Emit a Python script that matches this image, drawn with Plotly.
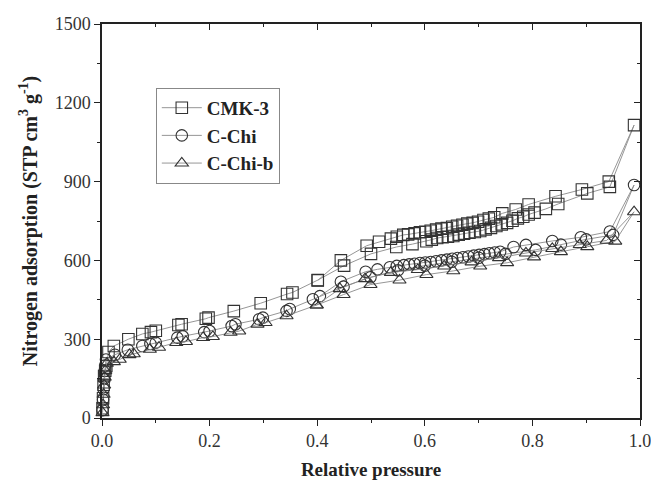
import plotly.graph_objects as go

# ---- data ----
cmk_ads_x = [0.001, 0.002, 0.003, 0.004, 0.006, 0.008, 0.012, 0.022, 0.049, 0.075, 0.091, 0.100,
             0.142, 0.148, 0.193, 0.198, 0.245, 0.295, 0.344, 0.354, 0.401, 0.450, 0.500, 0.547,
             0.577, 0.603, 0.613, 0.623, 0.633, 0.643, 0.653, 0.663, 0.673, 0.683, 0.693, 0.703,
             0.713, 0.723, 0.733, 0.743, 0.753, 0.763, 0.773, 0.783, 0.793, 0.804, 0.825, 0.848,
             0.902, 0.944, 0.989]
cmk_ads_y = [37, 75, 126, 160, 180, 198, 251, 274, 300, 320, 327, 332,
             354, 357, 378, 382, 407, 437, 472, 478, 525, 580, 625, 651,
             662, 673, 679, 685, 688, 690, 693, 698, 702, 705, 708, 712,
             718, 724, 731, 737, 743, 751, 760, 766, 775, 782, 796, 815,
             855, 880, 1115]
cmk_des_x = [0.942, 0.892, 0.843, 0.793, 0.769, 0.744, 0.729, 0.719, 0.709, 0.699, 0.689, 0.679,
             0.670, 0.660, 0.651, 0.641, 0.631, 0.621, 0.611, 0.601, 0.591, 0.581, 0.569, 0.560,
             0.548, 0.537, 0.515, 0.492, 0.444, 0.401]
cmk_des_y = [900, 870, 844, 813, 794, 779, 764, 759, 754, 747, 743, 740,
             736, 732, 728, 723, 721, 717, 713, 709, 707, 703, 699, 697,
             690, 683, 671, 656, 600, 524]

chi_ads_x = [0.001, 0.002, 0.003, 0.004, 0.005, 0.006, 0.0074, 0.024, 0.048, 0.075, 0.090, 0.100,
             0.140, 0.150, 0.190, 0.200, 0.241, 0.248, 0.292, 0.299, 0.343, 0.349, 0.392, 0.449,
             0.499, 0.550, 0.600, 0.650, 0.700, 0.750, 0.806, 0.853, 0.900, 0.950, 0.989]
chi_ads_y = [30, 70, 110, 150, 180, 200, 223, 241, 260, 274, 282, 287,
             306, 311, 327, 331, 350, 357, 376, 382, 408, 415, 452, 500,
             536, 562, 580, 595, 610, 625, 640, 660, 680, 697, 887]
chi_des_x = [0.944, 0.890, 0.837, 0.788, 0.765, 0.740, 0.730, 0.720, 0.711, 0.701, 0.691, 0.681,
             0.671, 0.661, 0.651, 0.641, 0.631, 0.621, 0.611, 0.601, 0.591, 0.581, 0.571, 0.561,
             0.548, 0.535, 0.512, 0.490, 0.444, 0.405]
chi_des_y = [710, 688, 674, 659, 651, 633, 630, 627, 624, 621, 618, 615,
             612, 609, 606, 603, 600, 597, 594, 592, 590, 587, 585, 582,
             579, 574, 566, 557, 519, 464]

chib_ads_x = [0.001, 0.002, 0.003, 0.004, 0.005, 0.006, 0.009, 0.022, 0.033, 0.051, 0.059, 0.089,
              0.106, 0.138, 0.156, 0.188, 0.206, 0.239, 0.255, 0.289, 0.304, 0.343, 0.399, 0.449,
              0.499, 0.553, 0.603, 0.653, 0.703, 0.753, 0.803, 0.853, 0.902, 0.954, 0.989]
chib_ads_y = [20, 50, 90, 125, 155, 180, 208, 214, 223, 241, 244, 261,
              269, 287, 291, 306, 310, 326, 331, 357, 363, 389, 430, 470,
              508, 525, 546, 560, 578, 591, 613, 633, 652, 673, 785]
chib_des_x = [0.938, 0.888, 0.837, 0.788, 0.738, 0.687, 0.636, 0.587, 0.537, 0.489, 0.442, 0.399]
chib_des_y = [676, 660, 645, 628, 610, 594, 578, 565, 554, 530, 492, 430]

series = [
    ("CMK-3", "square-open", cmk_ads_x + cmk_des_x, cmk_ads_y + cmk_des_y),
    ("C-Chi", "circle-open", chi_ads_x + chi_des_x, chi_ads_y + chi_des_y),
    ("C-Chi-b", "triangle-up-open", chib_ads_x + chib_des_x, chib_ads_y + chib_des_y),
]

x_ticks = [0.0, 0.2, 0.4, 0.6, 0.8, 1.0]
x_labels = ["0.0", "0.2", "0.4", "0.6", "0.8", "1.0"]
y_ticks = [0, 300, 600, 900, 1200, 1500]

SERIF = "Liberation Serif"

fig = go.Figure()
for name, sym, xs, ys in series:
    fig.add_trace(go.Scatter(
        x=xs, y=ys, name=name, mode="lines+markers",
        line=dict(color="#8a8a8a", width=0.9),
        marker=dict(symbol=sym, size=11.5, color="#333333", line=dict(width=1.1, color="#333333")),
        cliponaxis=False,
    ))

axis_common = dict(showline=True, linecolor="#222222", linewidth=1.5, showgrid=False,
                   zeroline=False)

fig.update_layout(
    width=651, height=480,
    margin=dict(l=102, r=11, t=24, b=62),
    paper_bgcolor="white", plot_bgcolor="white",
    font=dict(family=SERIF, color="#222222"),
    showlegend=True,
    legend=dict(x=0.1, y=0.838, xanchor="left", yanchor="top",
                bordercolor="#888888", borderwidth=1, bgcolor="white",
                font=dict(family=SERIF, size=19, color="#222222", weight="bold"),
                itemwidth=40, tracegroupgap=0),
    xaxis=dict(range=[0, 1], tickvals=x_ticks, ticktext=x_labels, ticks="outside",
               ticklen=6, tickwidth=1.2, tickcolor="#222222", ticklabeloverflow="allow",
               tickfont=dict(family=SERIF, size=18, color="#333333"), automargin=False,
               minor=dict(dtick=0.1, tick0=0, ticks="outside", ticklen=3, tickcolor="#222222"),
               title=dict(text="<b>Relative pressure</b>", font=dict(family=SERIF, size=19, color="#222222")),
               **axis_common),
    yaxis=dict(range=[0, 1500], tickvals=y_ticks, ticks="outside",
               ticklen=6, tickwidth=1.2, tickcolor="#222222", ticklabeloverflow="allow",
               tickfont=dict(family=SERIF, size=18, color="#333333"), automargin=True,
               minor=dict(dtick=150, tick0=0, ticks="outside", ticklen=3, tickcolor="#222222"),
               title=dict(text="<b>Nitrogen adsorption (STP cm<sup>3</sup> g<sup>-1</sup>)</b>",
                          font=dict(family=SERIF, size=20, color="#222222"), standoff=12),
               **axis_common),
    xaxis2=dict(overlaying="x", side="top", range=[0, 1], tickvals=x_ticks, ticks="inside",
                ticklen=6, tickwidth=1.2, tickcolor="#222222", showticklabels=False, automargin=False,
                minor=dict(dtick=0.1, tick0=0, ticks="inside", ticklen=3, tickcolor="#222222"),
                **axis_common),
    yaxis2=dict(overlaying="y", side="right", range=[0, 1500], tickvals=y_ticks, ticks="inside",
                ticklen=6, tickwidth=1.2, tickcolor="#222222", showticklabels=False, automargin=False,
                minor=dict(dtick=150, tick0=0, ticks="inside", ticklen=3, tickcolor="#222222"),
                **axis_common),
)
# invisible trace to anchor the mirrored axes
fig.add_trace(go.Scatter(x=[None], y=[None], xaxis="x2", yaxis="y2", showlegend=False,
                         hoverinfo="skip"))

fig.write_html("out.html", config={"displayModeBar": False},
               post_script="document.body.style.margin='0';document.body.style.padding='0';")
